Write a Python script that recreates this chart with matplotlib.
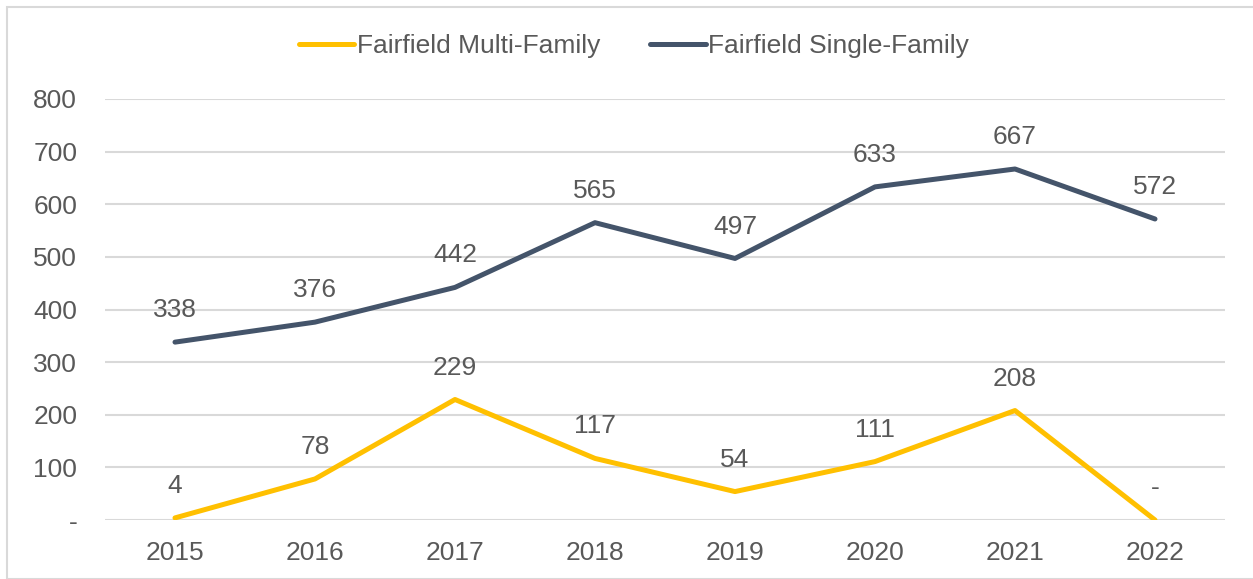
import matplotlib
matplotlib.use("Agg")
import matplotlib.pyplot as plt
from matplotlib.patches import Rectangle

years = ["2015", "2016", "2017", "2018", "2019", "2020", "2021", "2022"]
multi_family = [4, 78, 229, 117, 54, 111, 208, 0]
single_family = [338, 376, 442, 565, 497, 633, 667, 572]
y_ticks = [0, 100, 200, 300, 400, 500, 600, 700, 800]
y_tick_labels = ["-", "100", "200", "300", "400", "500", "600", "700", "800"]

plt.rcParams['font.family'] = ['Liberation Sans', 'DejaVu Sans']
txt = "#595959"
fs = 19

fig = plt.figure(figsize=(12.53, 5.79), dpi=100)
ax = fig.add_axes([105/1253, 1-520/579, 1120/1253, 421/579])

x = list(range(len(years)))
l1, = ax.plot(x, multi_family, color="#FFC000", lw=3.6, solid_capstyle="round",
              solid_joinstyle="round", label="Fairfield Multi-Family", zorder=3)
l2, = ax.plot(x, single_family, color="#44546A", lw=3.6, solid_capstyle="round",
              solid_joinstyle="round", label="Fairfield Single-Family", zorder=3)

def fmt(v):
    return "-" if v == 0 else str(v)

for xi, v in zip(x, multi_family):
    ax.annotate(fmt(v), (xi, v), xytext=(0, 23), textcoords="offset points",
                ha="center", va="center", fontsize=fs, color=txt)
for xi, v in zip(x, single_family):
    ax.annotate(fmt(v), (xi, v), xytext=(0, 23), textcoords="offset points",
                ha="center", va="center", fontsize=fs, color=txt)

ax.set_xlim(-0.5, len(years) - 0.5)
ax.set_ylim(0, 800)
ax.set_yticks(y_ticks)
ax.set_yticklabels(y_tick_labels)
ax.set_xticks(x)
ax.set_xticklabels(years)
ax.tick_params(axis="both", length=0, labelsize=fs, labelcolor=txt)
ax.tick_params(axis="y", pad=20)
ax.tick_params(axis="x", pad=15)
ax.grid(axis="y", color="#D9D9D9", lw=1.5)
ax.set_axisbelow(True)
for s in ax.spines.values():
    s.set_visible(False)

fig.legend(handles=[l1, l2], loc="center", bbox_to_anchor=(634/1253, 1-46/579),
           ncol=2, frameon=False, fontsize=fs, handlelength=2.1, handletextpad=0.1,
           columnspacing=1.9, labelcolor=txt)

fig.patches.append(Rectangle((7/1253, 0), 1, 1-7/579, transform=fig.transFigure,
                             fill=False, edgecolor="#D9D9D9", lw=1.5))

fig.savefig("out.png", dpi=100)
